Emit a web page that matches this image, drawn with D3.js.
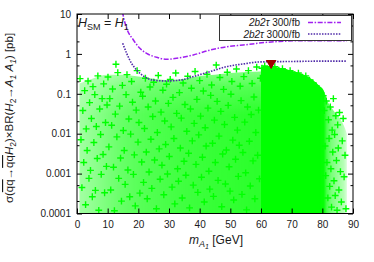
<!DOCTYPE html>
<html><head><meta charset="utf-8">
<script src="https://cdn.jsdelivr.net/npm/d3@7"></script>
<style>
body{margin:0;background:#fff;}
svg{display:block;font-family:"Liberation Sans",Arial,Helvetica,sans-serif;}
</style>
</head><body>
<svg id="chart" width="374" height="262"></svg>
<script>
// ---------- data ----------
const xTicks = [0, 10, 20, 30, 40, 50, 60, 70, 80, 90];
const yTicks = [10, 1, 0.1, 0.01, 0.001, 0.0001];
const yTickLabels = ["10", "1", "0.1", "0.01", "0.001", "0.0001"];
const yMinorMantissas = [2, 5];

// 2b2tau 300/fb reach curve (m_A1 [GeV], sigma x BR [pb])
const curve300M = [14.8, 15.0, 16.2, 18.4, 20.5, 22.7, 26.0, 29.2, 32.5, 37.9, 43.4, 48.8, 54.2, 61.9, 66.0, 72.7, 80.0, 86.7, 88.0];
const curve300V = [11.5, 9.6, 4.4, 2.23, 1.38, 1.03, 0.82, 0.73, 0.78, 0.94, 1.25, 1.51, 1.67, 1.95, 2.05, 2.14, 2.15, 2.15, 2.15];
// 2b2tau 3000/fb reach curve
const curve3000M = [14.9, 16.2, 17.8, 19.5, 21.6, 24.9, 29.2, 33.6, 37.9, 43.4, 48.8, 54.2, 59.7, 66.0, 72.7, 80.0, 86.7, 88.0];
const curve3000V = [1.85, 1.03, 0.58, 0.39, 0.28, 0.22, 0.21, 0.22, 0.27, 0.36, 0.48, 0.56, 0.63, 0.64, 0.65, 0.66, 0.66, 0.66];

// benchmark point (red triangle)
const benchM = [63.3];
const benchV = [0.59];

// envelope and density of the scan cloud
const cloudM = [0.8, 5, 10, 15, 20, 25, 30, 35, 40, 45, 50, 55, 59.9, 60, 61, 63, 66, 70, 74, 77, 79, 80.5, 81.5, 83, 85, 87, 88];
const cloudTop = [0.18, 0.24, 0.3, 0.3, 0.27, 0.24, 0.22, 0.24, 0.28, 0.3, 0.33, 0.35, 0.36, 0.45, 0.5, 0.5, 0.45, 0.38, 0.3, 0.22, 0.16, 0.12, 0.07, 0.045, 0.028, 0.016, 0.01];
const cloudDensity = [0.36, 0.43, 0.52, 0.6, 0.65, 0.69, 0.72, 0.75, 0.77, 0.79, 0.8, 0.82, 0.83, 1, 1, 1, 1, 1, 1, 1, 1, 0.97, 0.7, 0.52, 0.4, 0.28, 0.15];
// vertical thinning of the sparse part (m < 60) towards its upper edge
const fadeV = [0.5, 0.15, 0.03];
const fadeLevel = [0.5, 0.82, 1];

// individual scan points [m_A1, log10(sigma x BR / pb)]
const scanPoints = [
[1.0,-0.62],[1.3,-2.15],[1.6,-3.35],[1.9,-1.42],[2.2,-2.72],[2.5,-0.92],[2.8,-3.78],[3.0,-1.88],[3.3,-2.42],[3.6,-0.68],[3.9,-3.12],[4.1,-1.22],[4.4,-2.92],[4.7,-1.62],[5.0,-3.58],[5.2,-0.82],[5.5,-2.22],[5.8,-1.02],[6.0,-3.42],[6.3,-1.82],[6.6,-2.62],[6.8,-0.55],[7.1,-3.92],[7.4,-1.38],[7.7,-2.02],[7.9,-3.02],[8.2,-1.12],[8.5,-2.52],[8.7,-0.75],[9.0,-3.48],[9.3,-1.72],[9.6,-2.82],[9.8,-1.28],
[10.1,-0.58],[10.4,-2.33],[10.7,-1.12],[11.0,-3.41],[11.3,-1.79],[11.6,-0.88],[11.9,-2.84],[12.2,-3.93],[12.5,-1.51],[12.7,-0.26],[13.0,-2.08],[13.3,-0.47],[13.6,-3.12],[13.9,-1.31],[14.2,-2.61],[14.5,-3.69],[14.8,-0.79],[15.1,-1.92],[15.4,-2.42],[15.7,-3.27],[16.0,-1.02],[16.3,-0.52],[16.6,-2.91],[16.9,-1.63],[17.2,-3.58],[17.5,-2.01],[17.8,-0.69],[18.1,-1.21],[18.4,-3.02],[18.7,-2.53],[19.0,-3.81],[19.3,-1.41],[19.6,-0.42],[19.9,-2.21],
[20.2,-1.72],[20.5,-3.49],[20.8,-0.96],[21.1,-2.71],[21.4,-1.06],[21.7,-3.22],[22.0,-1.87],[22.3,-0.61],[22.6,-2.46],[22.9,-3.63],[23.2,-1.33],[23.5,-2.96],[23.8,-0.83],[24.1,-2.14],[24.4,-3.37],[24.7,-1.57],[25.0,-0.71],[25.3,-2.66],[25.6,-1.18],[25.9,-3.88],[26.2,-1.97],[26.5,-0.54],[26.8,-2.38],[27.1,-3.14],[27.4,-1.46],[27.7,-2.79],[28.0,-0.91],[28.3,-3.53],[28.6,-1.68],[28.9,-2.27],[29.2,-0.76],[29.5,-3.01],[29.8,-1.24],
[30.1,-2.57],[30.4,-0.64],[30.7,-1.83],[31.0,-3.34],[31.3,-1.09],[31.6,-2.12],[31.9,-3.76],[32.2,-0.48],[32.5,-1.49],[32.8,-2.88],[33.1,-3.19],[33.4,-0.97],[33.7,-2.36],[34.0,-1.61],[34.3,-3.61],[34.6,-0.73],[34.9,-2.69],[35.2,-1.27],[35.5,-3.04],[35.8,-1.94],[36.1,-0.56],[36.4,-2.49],[36.7,-3.86],[37.0,-1.38],[37.3,-0.86],[37.6,-2.18],[37.9,-3.29],[38.2,-1.74],[38.5,-0.44],[38.8,-2.77],[39.1,-1.14],[39.4,-3.47],[39.7,-2.03],
[40.0,-0.67],[40.3,-1.56],[40.6,-3.09],[40.9,-2.59],[41.2,-0.93],[41.5,-3.71],[41.8,-1.85],[42.1,-2.31],[42.4,-0.51],[42.7,-1.36],[43.0,-2.94],[43.3,-3.39],[43.6,-1.04],[43.9,-0.78],[44.2,-2.24],[44.5,-3.57],[44.8,-1.66],[45.1,-2.72],[45.4,-0.28],[45.7,-1.19],[46.0,-3.17],[46.3,-2.06],[46.6,-0.59],[46.9,-1.44],[47.2,-3.83],[47.5,-2.51],[47.8,-0.89],[48.1,-1.77],[48.4,-3.26],[48.7,-2.41],[49.0,-0.46],[49.3,-1.29],[49.6,-2.83],[49.9,-3.44],
[50.2,-1.01],[50.5,-0.69],[50.8,-2.16],[51.1,-3.66],[51.4,-1.59],[51.7,-2.64],[52.0,-0.38],[52.3,-1.91],[52.6,-3.07],[52.9,-2.29],[53.2,-0.81],[53.5,-1.17],[53.8,-3.52],[54.1,-2.47],[54.4,-0.57],[54.7,-1.71],[55.0,-2.98],[55.3,-3.91],[55.6,-1.33],[55.9,-0.42],[56.2,-2.19],[56.5,-3.31],[56.8,-1.52],[57.1,-0.74],[57.4,-2.68],[57.7,-1.08],[58.0,-3.63],[58.3,-1.97],[58.6,-0.33],[58.9,-2.54],[59.2,-1.41],[59.5,-3.13],[59.8,-0.61],
[60.3,-0.36],[61.2,-0.30],[62.0,-0.40],[64.5,-0.32],[65.8,-0.41],[67.0,-0.37],[68.3,-0.47],[69.5,-0.42],[71.0,-0.52],[72.2,-0.48],[73.5,-0.58],[74.6,-0.55],[75.8,-0.66],[76.9,-0.72],[78.0,-0.80],[78.8,-0.92],[79.6,-0.98],[80.3,-1.05],
[80.6,-1.42],[80.9,-2.31],[81.1,-3.05],[81.3,-1.18],[81.5,-2.72],[81.8,-3.61],[82.0,-1.65],[82.2,-2.12],[82.4,-3.32],[82.6,-1.33],[82.8,-2.88],[83.0,-3.84],[83.2,-1.91],[83.4,-2.46],[83.6,-1.12],[83.8,-3.18],[84.0,-2.02],[84.2,-3.55],[84.4,-1.55],[84.6,-2.67],[84.8,-3.92],[85.0,-1.78],[85.2,-2.36],[85.4,-3.41],[85.6,-1.47],[85.9,-2.95],[86.2,-3.71],[86.5,-2.18],[86.8,-1.62],[87.1,-3.08],[87.4,-2.54],[87.7,-3.88]
];

const legendLabels = ["300/fb", "3000/fb"];

// ---------- layout ----------
const L = 77, R = 353, T = 14, B = 213.5;
const svg = d3.select("#chart");
const x = d3.scaleLinear().domain([0, 90]).range([L, R]);
const y = d3.scaleLog().domain([0.0001, 10]).range([B, T]);
const green = "#00ff00";

const defs = svg.append("defs");
defs.append("clipPath").attr("id", "plotclip")
  .append("rect").attr("x", L).attr("y", T).attr("width", R - L).attr("height", B - T);

// horizontal density gradient of the cloud
const grad = defs.append("linearGradient").attr("id", "cloudgrad")
  .attr("gradientUnits", "userSpaceOnUse")
  .attr("x1", x(0)).attr("x2", x(90)).attr("y1", 0).attr("y2", 0);
grad.selectAll("stop").data(cloudM).join("stop")
  .attr("offset", d => (x(d) - x(0)) / (x(90) - x(0)))
  .attr("stop-color", green)
  .attr("stop-opacity", (d, i) => cloudDensity[i]);

// vertical thinning mask for the sparse part
const vgrad = defs.append("linearGradient").attr("id", "fadegrad")
  .attr("gradientUnits", "userSpaceOnUse")
  .attr("x1", 0).attr("x2", 0).attr("y1", y(fadeV[0])).attr("y2", y(fadeV[fadeV.length - 1]));
vgrad.selectAll("stop").data(fadeV).join("stop")
  .attr("offset", d => (y(d) - y(fadeV[0])) / (y(fadeV[fadeV.length - 1]) - y(fadeV[0])))
  .attr("stop-color", (d, i) => d3.rgb(255 * fadeLevel[i], 255 * fadeLevel[i], 255 * fadeLevel[i]).formatHex());
const mask = defs.append("mask").attr("id", "cloudmask")
  .attr("maskUnits", "userSpaceOnUse").attr("x", 0).attr("y", 0).attr("width", 374).attr("height", 262);
mask.append("rect").attr("x", L).attr("y", T).attr("width", x(60) - L).attr("height", B - T).attr("fill", "url(#fadegrad)");
mask.append("rect").attr("x", x(60)).attr("y", T).attr("width", R - x(60)).attr("height", B - T).attr("fill", "#fff");

const plot = svg.append("g").attr("clip-path", "url(#plotclip)");

// cloud body
const area = d3.area()
  .x(d => x(d[0]))
  .y0(y(0.0001))
  .y1(d => y(d[1]))
  .curve(d3.curveMonotoneX);
plot.append("path")
  .datum(cloudM.map((m, i) => [m, cloudTop[i]]))
  .attr("d", area)
  .attr("fill", "url(#cloudgrad)")
  .attr("mask", "url(#cloudmask)");

// scan points as "+" markers
const cs = 3.4;
plot.append("g").selectAll("path").data(scanPoints).join("path")
  .attr("d", d => {
    const px = x(d[0]), py = y(Math.pow(10, d[1]));
    return `M${px - cs},${py}H${px + cs}M${px},${py - cs}V${py + cs}`;
  })
  .attr("stroke", green).attr("stroke-width", 1.4).attr("fill", "none");

// reach curves
const line = d3.line().x(d => x(d[0])).y(d => y(d[1])).curve(d3.curveMonotoneX);
const c300 = "#a020f0", c3000 = "#4f2aa8";
plot.append("path")
  .datum(curve300M.map((m, i) => [m, curve300V[i]]))
  .attr("d", line).attr("fill", "none")
  .attr("stroke", c300).attr("stroke-width", 1.5).attr("stroke-dasharray", "5,1.6,1.5,1.6");
plot.append("path")
  .datum(curve3000M.map((m, i) => [m, curve3000V[i]]))
  .attr("d", line).attr("fill", "none")
  .attr("stroke", c3000).attr("stroke-width", 1.6).attr("stroke-dasharray", "1.5,1.3");

// benchmark triangle
svg.append("g").selectAll("path").data(benchM).join("path")
  .attr("transform", (d, i) => `translate(${x(d)},${y(benchV[i])}) rotate(180)`)
  .attr("d", d3.symbol().type(d3.symbolTriangle).size(50))
  .attr("fill", "#a00000");

// ---------- axes ----------
const axG = svg.append("g").attr("font-size", 12);
const ab = axG.append("g").attr("transform", `translate(0,${B})`)
  .call(d3.axisBottom(x).tickValues(xTicks).tickFormat(d3.format("d")).tickSizeInner(-5).tickSizeOuter(0).tickPadding(7));
const at = axG.append("g").attr("transform", `translate(0,${T})`)
  .call(d3.axisTop(x).tickValues(xTicks).tickFormat("").tickSizeInner(-5).tickSizeOuter(0));
const al = axG.append("g").attr("transform", `translate(${L},0)`)
  .call(d3.axisLeft(y).tickValues(yTicks).tickFormat((d, i) => yTickLabels[i]).tickSizeInner(-5).tickSizeOuter(0).tickPadding(6));
const ar = axG.append("g").attr("transform", `translate(${R},0)`)
  .call(d3.axisRight(y).tickValues(yTicks).tickFormat("").tickSizeInner(-5).tickSizeOuter(0));
[ab, at, al, ar].forEach(g => {
  g.select(".domain").remove();
  g.selectAll("text").attr("fill", "#1a1a1a").attr("font-family", "'Liberation Sans',Arial,sans-serif");
  g.selectAll("line").attr("stroke", "#000");
});
// minor log ticks
const minor = [];
yTicks.slice(1).forEach(d => yMinorMantissas.forEach(mm => minor.push(d * mm)));
axG.append("g").selectAll("path").data(minor).join("path")
  .attr("d", d => `M${L},${y(d)}h2.5M${R},${y(d)}h-2.5`)
  .attr("stroke", "#000").attr("stroke-width", 1);
// frame
svg.append("rect").attr("x", L).attr("y", T).attr("width", R - L).attr("height", B - T)
  .attr("fill", "none").attr("stroke", "#000").attr("stroke-width", 1);

// ---------- legend ----------
const lg = svg.append("g").attr("font-size", 10).attr("fill", "#1a1a1a");
lg.append("rect").attr("x", 219.5).attr("y", 15.5).attr("width", 132).attr("height", 25)
  .attr("fill", "#fff").attr("stroke", "#333").attr("stroke-width", 1);
const legColors = [c300, c3000];
const legDash = ["5,1.6,1.5,1.6", "1.5,1.3"];
legendLabels.forEach((lab, i) => {
  const by = 26 + i * 11.5;
  const t = lg.append("text").attr("x", 300).attr("y", by).attr("text-anchor", "end");
  t.append("tspan").attr("font-style", "italic").text("2b2τ");
  t.append("tspan").text(" " + lab);
  lg.append("line").attr("x1", 308).attr("x2", 341).attr("y1", by - 3.5).attr("y2", by - 3.5)
    .attr("stroke", legColors[i]).attr("stroke-width", 1.5).attr("stroke-dasharray", legDash[i]);
});

// ---------- titles ----------
const hs = svg.append("text").attr("x", 78).attr("y", 27).attr("font-size", 12.5).attr("fill", "#1a1a1a");
hs.append("tspan").attr("font-style", "italic").text("H");
hs.append("tspan").attr("font-size", 9).attr("dy", 3).text("SM");
hs.append("tspan").attr("dy", -3).text(" = ");
hs.append("tspan").attr("font-style", "italic").text("H");
hs.append("tspan").attr("font-size", 9).attr("dy", 3).text("1");

const xt = svg.append("text").attr("x", 216).attr("y", 244).attr("text-anchor", "middle")
  .attr("font-size", 12).attr("fill", "#1a1a1a");
xt.append("tspan").attr("font-style", "italic").text("m");
xt.append("tspan").attr("font-size", 9).attr("dy", 3).attr("font-style", "italic").text("A");
xt.append("tspan").attr("font-size", 7).attr("dy", 2).attr("font-style", "italic").text("1");
xt.append("tspan").attr("dy", -5).text(" [GeV]");

const yt = svg.append("text").attr("transform", "translate(13,118) rotate(-90)")
  .attr("text-anchor", "middle").attr("font-size", 11.5).attr("fill", "#1a1a1a");
yt.append("tspan").text("σ(");
yt.append("tspan").attr("text-decoration", "overline").text("qq");
yt.append("tspan").text("→");
yt.append("tspan").attr("text-decoration", "overline").text("qq");
yt.append("tspan").attr("font-style", "italic").text("H");
yt.append("tspan").attr("font-size", 8.5).attr("dy", 2.5).text("2");
yt.append("tspan").attr("dy", -2.5).text(")×BR(");
yt.append("tspan").attr("font-style", "italic").text("H");
yt.append("tspan").attr("font-size", 8.5).attr("dy", 2.5).text("2");
yt.append("tspan").attr("dy", -2.5).text("→");
yt.append("tspan").attr("font-style", "italic").text("A");
yt.append("tspan").attr("font-size", 8.5).attr("dy", 2.5).attr("font-style", "italic").text("1");
yt.append("tspan").attr("dy", -2.5).text(" ");
yt.append("tspan").attr("font-style", "italic").text("A");
yt.append("tspan").attr("font-size", 8.5).attr("dy", 2.5).attr("font-style", "italic").text("1");
yt.append("tspan").attr("dy", -2.5).text(") [pb]");
</script>
</body></html>
